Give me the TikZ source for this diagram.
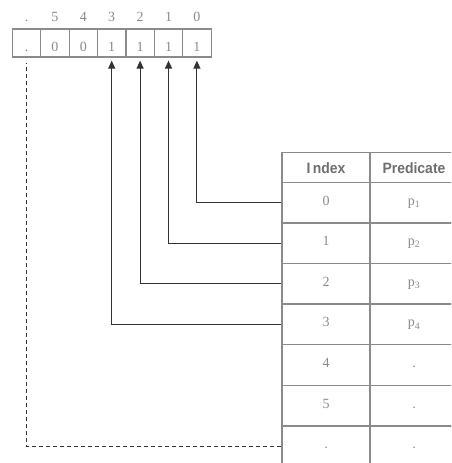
\documentclass[tikz,border=0pt]{standalone}
\usepackage{fontspec}
\setmainfont{Liberation Serif}
\newfontfamily\hdrfont{Liberation Sans}
\usetikzlibrary{arrows.meta}
\definecolor{gridgray}{HTML}{8A8A8A}
\definecolor{txtgray}{HTML}{8A8A8A}
\definecolor{hdrgray}{HTML}{6E6E6E}
\definecolor{linkdark}{HTML}{333333}
\newcommand{\hdrtext}[1]{\scalebox{0.93}[1]{#1}}
\begin{document}
\begin{tikzpicture}[x=1pt,y=-1pt,
  bitcell/.style={draw=gridgray,line width=1.2pt,minimum width=28.4pt,minimum height=28pt,
    inner sep=0pt,text=txtgray,font=\fontsize{14}{14}\selectfont,text height=16pt,text depth=0pt},
  bitlbl/.style={anchor=base,inner sep=0pt,text=txtgray,font=\fontsize{14}{14}\selectfont},
  tcell/.style={draw=gridgray,line width=1.5pt,minimum width=88pt,minimum height=40.6pt,
    inner sep=0pt,text=txtgray,font=\fontsize{14}{14}\selectfont,text height=7pt,text depth=2pt},
  thead/.style={tcell,minimum height=30pt,text=hdrgray,font=\hdrfont\bfseries\fontsize{15}{15}\selectfont,
    text height=12pt,text depth=0pt},
  link/.style={draw=linkdark,line width=1.1pt,-{Triangle[length=8pt,width=7pt]},shorten >=3pt},
  dlink/.style={draw=linkdark,line width=1.1pt,dash pattern=on 4pt off 3pt,shorten >=5pt}]
\useasboundingbox (0,0) rectangle (451,463);
\clip (0,0) rectangle (451,463);
% bit array
\node[bitcell] (bd) at (26.5,43) {.};
\node[bitcell] (b5) at (54.9,43) {0};
\node[bitcell] (b4) at (83.3,43) {0};
\node[bitcell] (b3) at (111.7,43) {1};
\node[bitcell] (b2) at (140.1,43) {1};
\node[bitcell] (b1) at (168.5,43) {1};
\node[bitcell] (b0) at (196.9,43) {1};
% labels above
\node[bitlbl] (ld) at (26.5,21) {.};
\node[bitlbl] (l5) at (54.9,21) {5};
\node[bitlbl] (l4) at (83.3,21) {4};
\node[bitlbl] (l3) at (111.7,21) {3};
\node[bitlbl] (l2) at (140.1,21) {2};
\node[bitlbl] (l1) at (168.5,21) {1};
\node[bitlbl] (l0) at (196.9,21) {0};
% table
\node[thead] (hi) at (326,167.3) {\hdrtext{I\kern2.5pt ndex}};
\node[thead] (hp) at (414,167.3) {\hdrtext{Predicate}};
\node[tcell] (i0) at (326,202.6) {0};
\node[tcell] (p0) at (414,202.6) {p\textsubscript{1}};
\node[tcell] (i1) at (326,243.2) {1};
\node[tcell] (p1) at (414,243.2) {p\textsubscript{2}};
\node[tcell] (i2) at (326,283.8) {2};
\node[tcell] (p2) at (414,283.8) {p\textsubscript{3}};
\node[tcell] (i3) at (326,324.4) {3};
\node[tcell] (p3) at (414,324.4) {p\textsubscript{4}};
\node[tcell] (i4) at (326,365.0) {4};
\node[tcell] (p4) at (414,365.0) {.};
\node[tcell] (i5) at (326,405.6) {5};
\node[tcell] (p5) at (414,405.6) {.};
\node[tcell] (i6) at (326,446.2) {.};
\node[tcell] (p6) at (414,446.2) {.};
% connectors
\draw[link] (i0.west) -| (b0.south);
\draw[link] (i1.west) -| (b1.south);
\draw[link] (i2.west) -| (b2.south);
\draw[link] (i3.west) -| (b3.south);
\draw[dlink] (i6.west) -| (bd.south);
\end{tikzpicture}
\end{document}
